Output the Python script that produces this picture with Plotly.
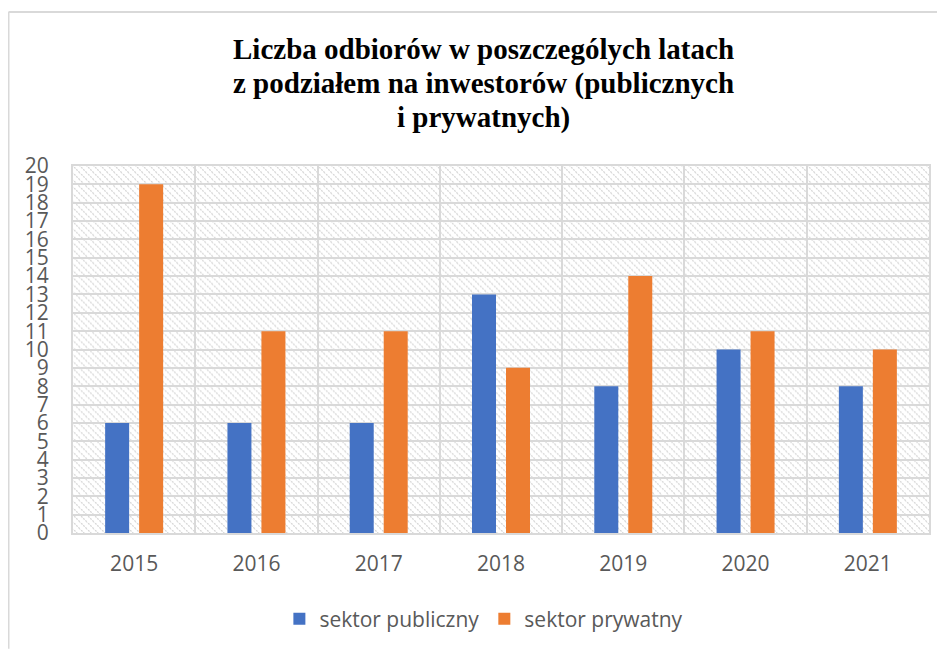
import base64
import plotly.graph_objects as go

years = ["2015", "2016", "2017", "2018", "2019", "2020", "2021"]
sektor_publiczny = [6, 6, 6, 13, 8, 10, 8]
sektor_prywatny = [19, 11, 11, 9, 14, 11, 10]
y_ticks = list(range(0, 21))
title_lines = [
    "Liczba odbiorów w poszczególych latach",
    "z podziałem na inwestorów (publicznych",
    "i prywatnych)",
]

# page has an 8px body margin, so the figure is 8px smaller
W, H = 937, 642
ML, MR, MT, MB = 65, 16, 158, 116
PW, PH = W - ML - MR, H - MT - MB

svg = f'''<svg xmlns="http://www.w3.org/2000/svg" width="{PW}" height="{PH}" viewBox="0 0 {PW} {PH}" preserveAspectRatio="none">
<defs><pattern id="h" width="7" height="7" patternUnits="userSpaceOnUse">
<path d="M-1,-1 L8,8 M-8,-1 L1,8 M6,-1 L15,8" stroke="#d6d6d6" stroke-width="1.3" stroke-dasharray="2,1"/>
</pattern></defs>
<rect width="{PW}" height="{PH}" fill="white"/>
<rect width="{PW}" height="{PH}" fill="url(#h)"/>
</svg>'''
src = "data:image/svg+xml;base64," + base64.b64encode(svg.encode()).decode()

fig = go.Figure()
fig.add_trace(go.Bar(x=years, y=sektor_publiczny, name="sektor publiczny",
                     marker=dict(color="#4472C4", line=dict(width=0))))
fig.add_trace(go.Bar(x=years, y=sektor_prywatny, name="sektor prywatny",
                     marker=dict(color="#ED7D31", line=dict(width=0))))

grid = "#d9d9d9"
title_y_px = [41, 75, 109]
annotations = [
    dict(text=f"<b>{t}</b>", xref="paper", yref="paper",
         x=(475 - ML) / PW, y=(H - MB - yy) / PH, xanchor="center", yanchor="middle",
         showarrow=False, font=dict(family="Liberation Serif", size=29, color="black"))
    for t, yy in zip(title_lines, title_y_px)
]

fig.update_layout(
    width=W, height=H,
    margin=dict(l=ML, r=MR, t=MT, b=MB, pad=0),
    paper_bgcolor="white",
    plot_bgcolor="rgba(0,0,0,0)",
    barmode="group",
    bargap=0.444,
    bargroupgap=0.294,
    font=dict(family="Open Sans", size=21, color="#595959"),
    annotations=annotations,
    legend=dict(orientation="h", x=0.480, xanchor="center", y=-0.231, yanchor="middle",
                font=dict(family="Open Sans", size=21, color="#595959"),
                itemwidth=30, traceorder="normal"),
    xaxis=dict(type="category", tickson="boundaries", showgrid=True, gridcolor=grid, gridwidth=2,
               showline=True, linecolor=grid, linewidth=2, mirror=True,
               ticks="", ticklabelstandoff=11, zeroline=False,
               tickfont=dict(family="Open Sans", size=21, color="#595959")),
    yaxis=dict(range=[0, 20], tickmode="array", tickvals=y_ticks, ticktext=[str(v) for v in y_ticks],
               showgrid=True, gridcolor=grid, gridwidth=2,
               showline=True, linecolor=grid, linewidth=2, mirror=True,
               ticks="", ticklabelstandoff=18, zeroline=False,
               tickfont=dict(family="Open Sans", size=21, color="#595959")),
    images=[dict(source=src, xref="paper", yref="paper", x=0, y=1, sizex=1, sizey=1,
                 sizing="stretch", xanchor="left", yanchor="top", layer="below")],
    shapes=[
        dict(type="line", xref="paper", yref="paper",
             x0=(0.5 - ML) / PW, x1=(W - ML) / PW, y0=(H - MB - 3.5) / PH, y1=(H - MB - 3.5) / PH,
             line=dict(color=grid, width=2)),
        dict(type="line", xref="paper", yref="paper",
             x0=(0.5 - ML) / PW, x1=(0.5 - ML) / PW, y0=(H - MB - 3.5) / PH, y1=-MB / PH,
             line=dict(color=grid, width=2)),
    ],
)

fig.write_html("out.html")
